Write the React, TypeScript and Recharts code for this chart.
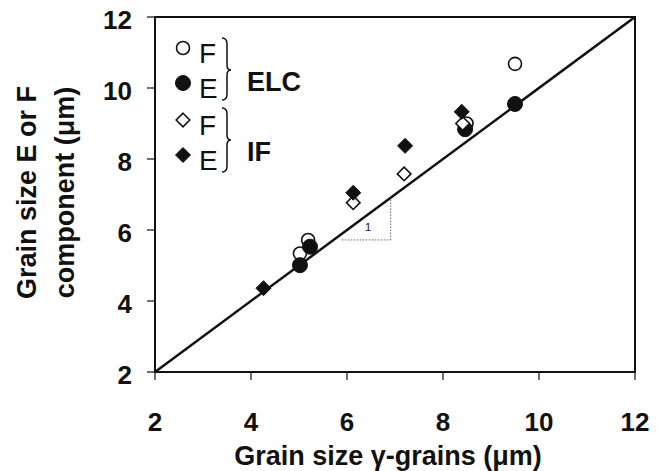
import React from "react";
import {
  ScatterChart,
  Scatter,
  XAxis,
  YAxis,
  ReferenceLine,
  ReferenceArea,
  ReferenceDot,
  Legend,
} from "recharts";

// Axis ticks (µm)
const xTicks = [2, 4, 6, 8, 10, 12];
const yTicks = [2, 4, 6, 8, 10, 12];

// ELC method: F component (open circles) and E component (filled circles)
const elcF = [
  { x: 5.02, y: 5.34 },
  { x: 5.19, y: 5.72 },
  { x: 8.49, y: 9.0 },
  { x: 9.5, y: 10.68 },
];
const elcE = [
  { x: 5.02, y: 5.01 },
  { x: 5.23, y: 5.53 },
  { x: 8.46, y: 8.84 },
  { x: 9.5, y: 9.55 },
];

// IF method: F component (open diamonds) and E component (filled diamonds)
const ifF = [
  { x: 6.13, y: 6.77 },
  { x: 7.19, y: 7.58 },
  { x: 8.41, y: 9.0 },
];
const ifE = [
  { x: 4.26, y: 4.36 },
  { x: 6.13, y: 7.05 },
  { x: 7.21, y: 8.37 },
  { x: 8.39, y: 9.33 },
];

// 1:1 reference line and slope triangle
const identityLine = [
  { x: 2, y: 2 },
  { x: 12, y: 12 },
];
const slopeRun = [
  { x: 5.89, y: 5.72 },
  { x: 6.91, y: 5.72 },
];
const slopeRise = [
  { x: 6.91, y: 5.72 },
  { x: 6.91, y: 6.91 },
];
const slopeLabel = { x: 6.44, y: 6.09, text: "1" };

const FONT = "'Liberation Sans', Arial, Helvetica, sans-serif";

const OpenCircle = (p: any) => (
  <circle cx={p.cx} cy={p.cy} r={6.5} fill="#fff" stroke="#111" strokeWidth={1.6} />
);
const FilledCircle = (p: any) => (
  <circle cx={p.cx} cy={p.cy} r={7.5} fill="#111" stroke="#111" strokeWidth={1} />
);
const diamondPoints = (cx: number, cy: number, h: number) =>
  `${cx},${cy - h} ${cx + h},${cy} ${cx},${cy + h} ${cx - h},${cy}`;
const OpenDiamond = (p: any) => (
  <polygon points={diamondPoints(p.cx, p.cy, 6.8)} fill="#fff" stroke="#111" strokeWidth={1.6} />
);
const FilledDiamond = (p: any) => (
  <polygon points={diamondPoints(p.cx, p.cy, 7.5)} fill="#111" stroke="#111" strokeWidth={1} />
);

const legendRows = [
  { key: "elcF", marker: "openCircle", text: "F", cy: 48 },
  { key: "elcE", marker: "filledCircle", text: "E", cy: 83 },
  { key: "ifF", marker: "openDiamond", text: "F", cy: 120 },
  { key: "ifE", marker: "filledDiamond", text: "E", cy: 155 },
];
const legendGroups = [
  { text: "ELC", top: 38, mid: 70, bottom: 100 },
  { text: "IF", top: 108, mid: 140, bottom: 172 },
];

const bracePath = (top: number, mid: number, bottom: number) => {
  const x0 = 222;
  const x1 = 227;
  const xp = 231;
  return (
    `M${x0},${top} Q${x1},${top} ${x1},${top + 6} L${x1},${mid - 5} Q${x1},${mid} ${xp},${mid} ` +
    `Q${x1},${mid} ${x1},${mid + 5} L${x1},${bottom - 6} Q${x1},${bottom} ${x0},${bottom}`
  );
};

const renderLegend = () => (
  <svg width={320} height={190} style={{ position: "absolute", left: 0, top: 0 }}>
    {legendRows.map((r) => {
      const cx = 183;
      let m;
      if (r.marker === "openCircle") m = <OpenCircle cx={cx} cy={r.cy} />;
      else if (r.marker === "filledCircle") m = <FilledCircle cx={cx} cy={r.cy} />;
      else if (r.marker === "openDiamond") m = <OpenDiamond cx={cx} cy={r.cy} />;
      else m = <FilledDiamond cx={cx} cy={r.cy} />;
      return (
        <g key={r.key}>
          {m}
          <text x={199} y={r.cy + 15} fontSize={28} fontFamily={FONT} fill="#111">
            {r.text}
          </text>
        </g>
      );
    })}
    {legendGroups.map((g) => (
      <g key={g.text}>
        <path d={bracePath(g.top, g.mid, g.bottom)} fill="none" stroke="#111" strokeWidth={1.5} />
        <text x={247} y={g.mid + 21} fontSize={27} fontWeight="bold" fontFamily={FONT} fill="#111">
          {g.text}
        </text>
      </g>
    ))}
  </svg>
);

const XTick = (p: any) => (
  <text
    x={p.x}
    y={p.y}
    dy="0.71em"
    textAnchor="middle"
    fontSize={26}
    fontWeight="bold"
    fontFamily={FONT}
    fill="#111"
  >
    {p.payload.value}
  </text>
);
const YTick = (p: any) => (
  <text
    x={p.x}
    y={p.y + 3}
    dy="0.355em"
    textAnchor="end"
    fontSize={26}
    fontWeight="bold"
    fontFamily={FONT}
    fill="#111"
  >
    {p.payload.value}
  </text>
);

const XTitle = (p: any) => {
  const vb = p.viewBox;
  return (
    <text
      x={vb.x + vb.width / 2 - 7}
      y={vb.y + 93}
      textAnchor="middle"
      fontSize={27}
      fontWeight="bold"
      fontFamily={FONT}
      fill="#111"
    >
      Grain size γ-grains (μm)
    </text>
  );
};
const YTitle = (p: any) => {
  const vb = p.viewBox;
  const cy = vb.y + vb.height / 2 - 2;
  return (
    <g fontSize={27} fontWeight="bold" fontFamily={FONT} fill="#111">
      <text x={36} y={cy} textAnchor="middle" transform={`rotate(-90, 36, ${cy})`}>
        Grain size E or F
      </text>
      <text x={74} y={cy} textAnchor="middle" transform={`rotate(-90, 74, ${cy})`}>
        component (μm)
      </text>
    </g>
  );
};

export default function App() {
  return (
    <div style={{ position: "absolute", left: 0, top: 0, background: "#fff" }}>
      <ScatterChart
        width={668}
        height={471}
        margin={{ top: 17, right: 33, bottom: 0, left: 0 }}
      >
        <XAxis
          type="number"
          dataKey="x"
          domain={[2, 12]}
          ticks={xTicks}
          allowDataOverflow
          height={99}
          tickSize={8}
          tickMargin={33}
          axisLine={{ stroke: "#111", strokeWidth: 2 }}
          tickLine={{ stroke: "#111", strokeWidth: 1.2 }}
          tick={<XTick />}
          label={<XTitle />}
        />
        <YAxis
          type="number"
          dataKey="y"
          domain={[2, 12]}
          ticks={yTicks}
          allowDataOverflow
          width={155}
          tickSize={8}
          tickMargin={15}
          axisLine={{ stroke: "#111", strokeWidth: 2 }}
          tickLine={{ stroke: "#111", strokeWidth: 1.2 }}
          tick={<YTick />}
          label={<YTitle />}
        />
        <ReferenceArea x1={2} x2={12} y1={2} y2={12} fill="none" stroke="#111" strokeWidth={2} />
        <ReferenceLine segment={identityLine} stroke="#111" strokeWidth={2.5} />
        <ReferenceLine segment={slopeRun} stroke="#666" strokeWidth={1} strokeDasharray="1.5 1.5" />
        <ReferenceLine segment={slopeRise} stroke="#666" strokeWidth={1} strokeDasharray="1.5 1.5" />
        <ReferenceDot
          x={slopeLabel.x}
          y={slopeLabel.y}
          r={0}
          shape={(p: any) => (
            <text x={p.cx} y={p.cy + 4} textAnchor="middle" fontSize={11} fontFamily={FONT} fill="#111">
              {slopeLabel.text}
            </text>
          )}
        />
        <Scatter name="ELC F" data={elcF} shape={<OpenCircle />} isAnimationActive={false} />
        <Scatter name="ELC E" data={elcE} shape={<FilledCircle />} isAnimationActive={false} />
        <Scatter name="IF F" data={ifF} shape={<OpenDiamond />} isAnimationActive={false} />
        <Scatter name="IF E" data={ifE} shape={<FilledDiamond />} isAnimationActive={false} />
        <Legend
          layout="vertical"
          align="center"
          verticalAlign="middle"
          content={renderLegend}
          wrapperStyle={{ position: "absolute", left: 0, top: 0, width: 320, height: 190 }}
        />
      </ScatterChart>
    </div>
  );
}
